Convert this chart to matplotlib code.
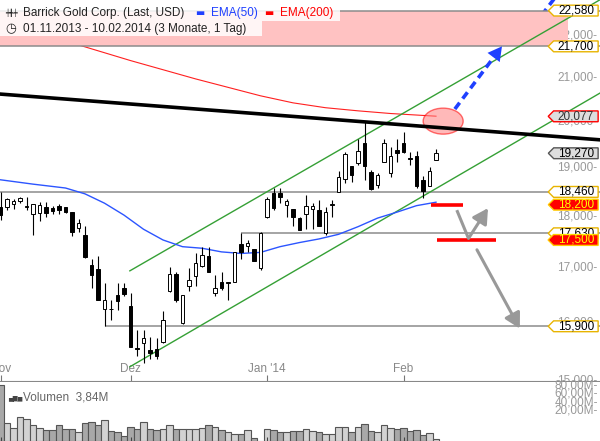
import numpy as np
import matplotlib.pyplot as plt
from matplotlib.patches import Ellipse, Rectangle
from matplotlib.path import Path
from matplotlib.ticker import NullLocator, NullFormatter
from matplotlib.transforms import ScaledTranslation, blended_transform_factory

plt.rcParams['font.family'] = ['Liberation Sans', 'DejaVu Sans']

# Barrick Gold, Tageskerzen 01.11.2013 - 10.02.2014 (Index 0 = 01.11.2013)
opens = [18.15, 18.16, 18.21, 18.28, 18.15, 18.01, 18.03, 18.15, 18.13, 18.17,
         18.16, 18.05, 17.74, 17.60, 17.02, 16.94, 16.20, 16.21, 16.46, 16.59,
         16.26, 15.52, 15.61, 15.49, 15.50, 15.63, 16.54, 16.86, 15.95, 16.63,
         16.81, 17.00, 17.19, 16.49, 16.71, 16.69, 16.71, 17.42, 17.39, 17.33,
         16.97, 17.96, 18.44, 18.44, 18.19, 18.11, 17.93, 18.02, 18.12, 18.09,
         17.63, 18.20, 18.46, 18.72, 18.99, 19.07, 19.48, 18.88, 18.60, 19.09,
         18.85, 19.34, 19.50, 19.17, 19.21, 18.71, 18.58, 19.12]
highs = [18.46, 18.33, 18.31, 18.35, 18.36, 18.21, 18.25, 18.25, 18.18, 18.21,
         18.16, 18.05, 17.91, 17.77, 17.13, 17.19, 16.68, 16.38, 16.68, 16.68,
         16.49, 15.83, 15.83, 15.71, 15.69, 16.18, 16.99, 16.89, 16.46, 16.97,
         17.24, 17.36, 17.37, 16.83, 16.88, 16.71, 17.27, 17.63, 17.49, 17.33,
         17.66, 18.35, 18.54, 18.54, 18.31, 18.12, 17.96, 18.40, 18.23, 18.30,
         18.16, 18.30, 18.90, 19.29, 18.99, 19.58, 19.95, 18.92, 18.86, 19.58,
         19.40, 19.57, 19.73, 19.30, 19.31, 18.79, 18.98, 19.37]
lows = [17.89, 18.09, 18.11, 18.23, 18.09, 17.60, 17.88, 17.96, 18.01, 18.01,
        18.04, 17.58, 17.66, 17.15, 16.59, 16.37, 15.90, 16.02, 16.19, 16.44,
        15.54, 15.38, 15.26, 15.33, 15.34, 15.61, 16.52, 16.34, 15.94, 16.54,
        16.63, 16.98, 16.89, 16.44, 16.55, 16.38, 16.71, 17.13, 17.27, 17.09,
        16.92, 17.93, 18.09, 18.23, 17.96, 17.77, 17.69, 17.71, 17.71, 17.77,
        17.59, 17.96, 18.46, 18.64, 18.67, 19.02, 18.71, 18.50, 18.53, 19.09,
        18.76, 19.08, 19.27, 19.02, 18.55, 18.33, 18.58, 19.12]
closes = [17.99, 18.31, 18.27, 18.33, 18.17, 18.21, 18.19, 18.03, 18.08, 18.09,
          18.06, 17.66, 17.83, 17.18, 16.83, 16.37, 16.38, 16.20, 16.36, 16.48,
          15.54, 15.51, 15.69, 15.43, 15.38, 16.01, 16.86, 16.37, 16.46, 16.74,
          17.05, 17.21, 16.89, 16.59, 16.59, 16.70, 17.27, 17.27, 17.45, 17.10,
          17.64, 18.31, 18.14, 18.35, 18.27, 17.96, 17.70, 18.17, 18.17, 17.77,
          18.05, 18.21, 18.77, 19.25, 18.80, 19.32, 18.99, 18.51, 18.81, 19.50,
          19.21, 19.27, 19.29, 19.14, 18.58, 18.48, 18.89, 19.27]
# Volumen in Mio.
volume = [132, 43, 30, 56, 52, 38, 31, 25, 25, 37,
          28, 28, 22, 42, 44, 37, 49, 23, 21, 12,
          34, 29, 44, 28, 25, 29, 37, 28, 28, 28,
          28, 31, 38, 33, 27, 20, 17, 17, 25, 6,
          1, 28, 25, 22, 20, 23, 23.5, 28, 23.5, 21,
          16.5, 16.5, 33, 33, 21, 33, 40, 23.5, 21, 37.6,
          30.6, 28, 30.6, 23.5, 26, 14, 19, 3.84]

ema50_idx = [0, 5, 10, 13, 16, 19, 22, 25, 28, 31, 34, 37, 40, 43, 46, 49, 52, 55, 58, 61, 64, 67]
ema50 = [18.71, 18.62, 18.54, 18.42, 18.23, 17.99, 17.71, 17.50, 17.37, 17.34, 17.27,
         17.24, 17.26, 17.37, 17.45, 17.52, 17.61, 17.76, 17.93, 18.05, 18.18, 18.25]
ema200_idx = [0, 10, 20, 30, 40, 45, 50, 55, 60, 67]
ema200 = [22.31, 21.83, 21.36, 20.93, 20.54, 20.38, 20.27, 20.20, 20.14, 20.08]

month_idx = [0, 20, 41, 62]
month_labels = ["Nov", "Dez", "Jan '14", "Feb"]
price_ticks = [15, 16, 17, 18, 19, 20, 21, 22]
vol_ticks = [20, 40, 60, 80]

# Zeichnungen (Index, Kurs)
resist_x, resist_y = [-0.08, 92.2], [20.58, 19.56]
chan_top_x, chan_top_y = [19.9, 92.2], [16.91, 22.85]
chan_bot_x, chan_bot_y = [19.9, 92.2], [15.20, 20.60]
zone_lo, zone_hi = 21.70, 22.58
levels = [22.58, 21.70, 18.46, 17.63, 15.90]
level_start = [-0.08, -0.08, -0.08, 37, 16]
red_marks = [(66.2, 71.2, 18.20), (67.2, 76.2, 17.50)]
ellipse_at = (68.1, 19.97)
blue_arrow = [(69.9, 20.24), (77.15, 21.70)]
blue_arrow2 = [(79.6, 21.70), (85.6, 22.97)]
gray_v = [(70.2, 18.09), (72.0, 17.53), (75.0, 18.13)]
gray_down = [(73.3, 17.31), (79.9, 15.86)]

tags = [(22.58, "22,580", "level"), (21.70, "21,700", "level"),
        (20.077, "20,077", "ema"), (19.27, "19,270", "last"),
        (18.46, "18,460", "level"), (18.20, "18,200", "mark"),
        (17.63, "17,630", "level"), (17.50, "17,500", "mark"),
        (15.90, "15,900", "level")]
tag_style = {"level": ("white", "#e8b400", "black"),
             "ema": ("#dddddd", "#ff0000", "#333333"),
             "last": ("#dddddd", "#555555", "black"),
             "mark": ("#ff0000", "#ffcc00", "#ffff00")}

BLUE = "#1f40ff"
GRAY = "#999999"
GREEN = "#35a035"


def tag_box(x0, y0, width, height, mutation_size):
    # Kursmarke mit Spitze nach links
    px = 0.35 * mutation_size
    py = -0.05 * mutation_size
    x0, y0 = x0 - px, y0 - py
    x1, y1 = x0 + width + 2 * px, y0 + height + 2 * py
    ym = (y0 + y1) / 2
    tip = (y1 - y0) / 2
    return Path([(x0 - tip, ym), (x0, y0), (x1, y0), (x1, y1), (x0, y1), (x0 - tip, ym)],
                closed=True)


fig = plt.figure(figsize=(6, 4.41), dpi=100)
ax = fig.add_axes([0, 60 / 441, 1, 381 / 441])
axv = fig.add_axes([0, 0, 1, 59 / 441])

idx = np.arange(len(closes))
o, h, l, c = map(np.array, (opens, highs, lows, closes))
up = c >= o

# Kerzen
ax.vlines(idx, l, h, color="black", lw=0.8, zorder=5)
lo = np.minimum(o, c)
hgt = np.maximum(np.abs(c - o), 0.012)
ax.bar(idx, hgt, bottom=lo, width=0.55, color=np.where(up, "white", "black"),
       edgecolor="black", lw=0.7, zorder=6)

# EMAs
ax.plot(ema200_idx, ema200, color="#ff2020", lw=0.8, zorder=1)
ax.plot(ema50_idx, ema50, color="#2c55ff", lw=1.0, zorder=4)

# Zone und Linien
ax.plot([p[0] for p in blue_arrow2], [p[1] for p in blue_arrow2],
        color=BLUE, lw=2.6, dashes=(2.2, 1.4), zorder=1.5)
ax.axhspan(zone_lo, zone_hi, xmin=0, xmax=568 / 600, color="#ffc2c2", lw=0, zorder=2)
for lev, xs in zip(levels, level_start):
    ax.hlines(lev, xs, 92.2, color="#8c8c8c", lw=1.1, zorder=2.5)

ax.plot(chan_top_x, chan_top_y, color=GREEN, lw=1.0, zorder=3)
ax.plot(chan_bot_x, chan_bot_y, color=GREEN, lw=1.0, zorder=3)
ax.plot(resist_x, resist_y, color="black", lw=2.6, zorder=7)

ell = Ellipse((0, 0), 0.40, 0.26,
              transform=fig.dpi_scale_trans + ScaledTranslation(*ellipse_at, ax.transData),
              facecolor="#ff8080", alpha=0.55, edgecolor="#ff0000", lw=1.0, zorder=6.5)
ax.add_patch(ell)

for x0, x1, lev in red_marks:
    ax.hlines(lev, x0, x1, color="#ff0000", lw=2.6, zorder=8)

# Pfeile
(bx0, by0), (bx1, by1) = blue_arrow
ax.plot([bx0, bx0 + 0.85 * (bx1 - bx0)], [by0, by0 * (by1 / by0) ** 0.85],
        color=BLUE, lw=2.6, dashes=(2.2, 1.4), zorder=8)
ax.annotate("", xy=(bx1, by1), xytext=(bx0, by0),
            arrowprops=dict(arrowstyle="-|>,head_length=1.0,head_width=0.55",
                            color=BLUE, lw=0, shrinkA=0, shrinkB=0), zorder=8)
ax.plot([p[0] for p in gray_v[:2]], [p[1] for p in gray_v[:2]], color=GRAY, lw=2.2,
        solid_capstyle="butt", zorder=8)
ax.annotate("", xy=gray_v[2], xytext=gray_v[1],
            arrowprops=dict(arrowstyle="-|>,head_length=0.9,head_width=0.5",
                            color=GRAY, lw=2.2, shrinkA=0, shrinkB=0), zorder=8)
ax.annotate("", xy=gray_down[1], xytext=gray_down[0],
            arrowprops=dict(arrowstyle="-|>,head_length=0.9,head_width=0.5",
                            color=GRAY, lw=2.2, shrinkA=0, shrinkB=0), zorder=8)

# Achsen
ax.set_yscale("log")
ax.set_ylim(14.962, 22.847)
ax.set_xlim(-0.077, 92.23)
ax.yaxis.set_minor_locator(NullLocator())
ax.yaxis.set_minor_formatter(NullFormatter())
ax.yaxis.tick_right()
ax.set_yticks(price_ticks, [f"{t:.3f}".replace(".", ",") + "-" for t in price_ticks])
ax.tick_params(axis="y", length=0, pad=-2, labelsize=8.5, labelcolor="#999999")
for lbl in ax.get_yticklabels():
    lbl.set_horizontalalignment("right")
ax.set_xticks(month_idx, month_labels)
ax.tick_params(axis="x", direction="in", length=4, color="#777777", pad=-13,
               labelsize=8.5, labelcolor="#888888")
for s in ["top", "left", "right"]:
    ax.spines[s].set_visible(False)
ax.spines["bottom"].set_color("#888888")

# Kurs-Marken rechts
tr = blended_transform_factory(ax.transAxes, ax.transData)
for val, txt, st in tags:
    fc, ec, tc = tag_style[st]
    ax.text(0.99, val, txt, transform=tr, ha="right", va="center", fontsize=8.5,
            color=tc, zorder=10,
            bbox=dict(boxstyle=tag_box, facecolor=fc, edgecolor=ec, lw=1.0))

# Volumen
axv.bar(idx, volume, width=1.0, color=np.where(up, "#d2d2d2", "#a8a8a8"),
        edgecolor="#555555", lw=0.8)
axv.set_xlim(-0.077, 92.23)
axv.set_ylim(0, 138.8)
axv.set_yticks([])
axv.set_xticks(month_idx)
axv.tick_params(axis="x", direction="in", length=3, color="#444444", labelbottom=False)
for s in axv.spines.values():
    s.set_visible(False)
vtr = blended_transform_factory(axv.transAxes, axv.transData) + \
    ScaledTranslation(0, 0.215, fig.dpi_scale_trans)
for v in vol_ticks:
    axv.text(0.997, v, f"{v:.2f}".replace(".", ",") + "M-", transform=vtr, ha="right",
             va="center", fontsize=8.5, color="#999999", clip_on=False)

# Legende oben links
fig.patches.append(Rectangle((0, 1 - 21 / 441), 340 / 600, 21 / 441, transform=fig.transFigure,
                             facecolor="white", alpha=0.85, lw=0, zorder=1))
fig.patches.append(Rectangle((0, 1 - 36 / 441), 262 / 600, 15 / 441, transform=fig.transFigure,
                             facecolor="white", alpha=0.85, lw=0, zorder=1))
y1 = 1 - 13 / 441
y2 = 1 - 29 / 441
fig.text(5 / 600, y1, "┿╋┿", fontsize=5, va="center", color="#222222", family="DejaVu Sans")
fig.text(23 / 600, y1, "Barrick Gold Corp. (Last, USD)", fontsize=8.5, va="center", color="#222222")
fig.text(195 / 600, y1, "▬", fontsize=7, va="center", color=BLUE, family="DejaVu Sans")
fig.text(211 / 600, y1, "EMA(50)", fontsize=8.5, va="center", color=BLUE)
fig.text(264 / 600, y1, "▬", fontsize=7, va="center", color="#ff0000", family="DejaVu Sans")
fig.text(280 / 600, y1, "EMA(200)", fontsize=8.5, va="center", color="#ff0000")
fig.text(5 / 600, y2, "◷", fontsize=9, va="center", color="#222222", family="DejaVu Sans")
fig.text(23 / 600, y2, "01.11.2013 - 10.02.2014 (3 Monate, 1 Tag)", fontsize=8.5,
         va="center", color="#222222")
fig.text(8 / 600, 1 - 398 / 441, "▅▇▆", fontsize=4.5, va="center", color="#444444",
         family="DejaVu Sans")
fig.text(23 / 600, 1 - 398 / 441, "Volumen  3,84M", fontsize=8.5, va="center", color="#666666")

fig.savefig("out.png", dpi=100)
